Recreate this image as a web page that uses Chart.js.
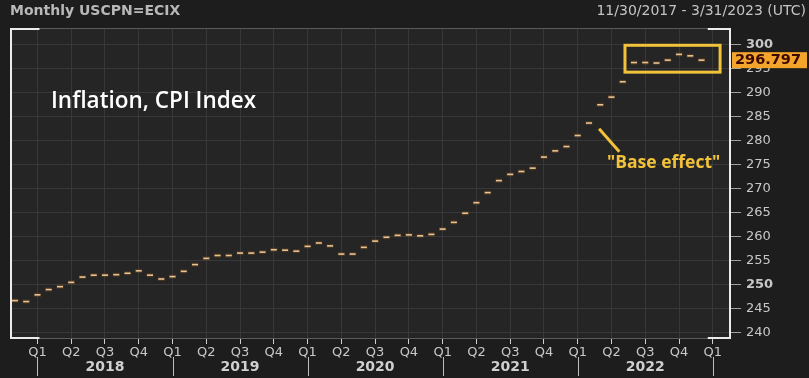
<!DOCTYPE html>
<html><head><meta charset="utf-8">
<script src="https://cdn.jsdelivr.net/npm/chart.js@4/dist/chart.umd.min.js"></script>
<style>html,body{margin:0;padding:0;background:#1d1d1d;overflow:hidden}#wrap{width:809px;height:378px;position:relative}</style>
</head><body><div id="wrap"><canvas id="c" width="809" height="378"></canvas></div>
<script>
// ---- data ----
const months = [
 '2017-11','2017-12',
 '2018-01','2018-02','2018-03','2018-04','2018-05','2018-06','2018-07','2018-08','2018-09','2018-10','2018-11','2018-12',
 '2019-01','2019-02','2019-03','2019-04','2019-05','2019-06','2019-07','2019-08','2019-09','2019-10','2019-11','2019-12',
 '2020-01','2020-02','2020-03','2020-04','2020-05','2020-06','2020-07','2020-08','2020-09','2020-10','2020-11','2020-12',
 '2021-01','2021-02','2021-03','2021-04','2021-05','2021-06','2021-07','2021-08','2021-09','2021-10','2021-11','2021-12',
 '2022-01','2022-02','2022-03','2022-04','2022-05','2022-06','2022-07','2022-08','2022-09','2022-10','2022-11','2022-12'
];
const cpiValues = [
 246.7, 246.5,
 247.9, 249.0, 249.6, 250.5, 251.6, 252.0, 252.0, 252.1, 252.4, 252.9, 252.0, 251.2,
 251.7, 252.8, 254.2, 255.5, 256.1, 256.1, 256.6, 256.6, 256.8, 257.3, 257.2, 257.0,
 258.0, 258.7, 258.1, 256.4, 256.4, 257.8, 259.1, 259.9, 260.3, 260.4, 260.2, 260.5,
 261.6, 263.0, 264.9, 267.1, 269.2, 271.7, 273.0, 273.6, 274.3, 276.6, 277.9, 278.8,
 281.1, 283.7, 287.5, 289.1, 292.3, 296.3, 296.3, 296.2, 296.8, 298.0, 297.7, 296.797
];
const yTicks = [240, 245, 250, 255, 260, 265, 270, 275, 280, 285, 290, 295, 300];
const quarterLabels = ['Q1', 'Q2', 'Q3', 'Q4'];
const yearLabels = ['2018', '2019', '2020', '2021', '2022'];
const baseYear = 2018;
const lastLabel = '296.797';
const titleLeft = 'Monthly USCPN=ECIX';
const titleRight = '11/30/2017 - 3/31/2023 (UTC)';
const noteTitle = 'Inflation, CPI Index';
const noteBase = '"Base effect"';
// highlight box (Jun–Dec 2022) and arrow, in data units
const highlight = {x0: 52.2, x1: 60.65, y0: 299.9, y1: 294.3};
const arrow = {x0: 49.9, y0: 282.5, x1: 51.7, y1: 277.7};

// ---- build ----
const monthIndex = m => (parseInt(m.slice(0,4)) - baseYear) * 12 + parseInt(m.slice(5,7)) - 1;
const points = months.map((m, i) => ({x: monthIndex(m), y: cpiValues[i]}));
const quarterTicks = [];
for (let q = 0; q <= yearLabels.length * 4; q++) quarterTicks.push(q * 3);

const GOLD = '#f2c23a';
const FONT = '"DejaVu Sans", Verdana, sans-serif';

const decor = {
  id: 'decor',
  beforeDraw(chart) {
    const {ctx, chartArea: a} = chart;
    ctx.save();
    ctx.fillStyle = '#1d1d1d';
    ctx.fillRect(0, 0, chart.width, chart.height);
    ctx.fillStyle = '#252525';
    ctx.fillRect(a.left, a.top, a.right - a.left, a.bottom - a.top);
    ctx.restore();
  },
  afterDraw(chart) {
    const {ctx, chartArea: a, scales: {x, y}} = chart;
    ctx.save();
    // frame
    ctx.strokeStyle = '#5a5a5a'; ctx.lineWidth = 1;
    ctx.beginPath();
    ctx.moveTo(a.left, a.top + 0.5); ctx.lineTo(a.right, a.top + 0.5);
    ctx.moveTo(a.left, a.bottom - 0.5); ctx.lineTo(a.right, a.bottom - 0.5);
    ctx.stroke();
    ctx.strokeStyle = '#ececec'; ctx.lineWidth = 2;
    const xs = x.getPixelForValue(0), xe = x.getPixelForValue(yearLabels.length * 12);
    ctx.beginPath();
    ctx.moveTo(a.left + 1, a.top); ctx.lineTo(a.left + 1, a.bottom);
    ctx.moveTo(a.right - 1, a.top); ctx.lineTo(a.right - 1, a.bottom);
    ctx.moveTo(a.left, a.top + 1); ctx.lineTo(xs + 2, a.top + 1);
    ctx.moveTo(xe - 5, a.top + 1); ctx.lineTo(a.right, a.top + 1);
    ctx.moveTo(a.left, a.bottom - 1); ctx.lineTo(xs + 2, a.bottom - 1);
    ctx.moveTo(xe - 5, a.bottom - 1); ctx.lineTo(a.right, a.bottom - 1);
    ctx.stroke();
    // year separators and labels
    ctx.strokeStyle = '#bdbdbd'; ctx.lineWidth = 1;
    ctx.fillStyle = '#d0d0d0';
    ctx.font = 'bold 14px ' + FONT;
    ctx.textAlign = 'center'; ctx.textBaseline = 'middle';
    for (let i = 0; i <= yearLabels.length; i++) {
      const px = Math.round(x.getPixelForValue(i * 12)) + 0.5;
      ctx.beginPath(); ctx.moveTo(px, 357); ctx.lineTo(px, 376); ctx.stroke();
      if (i < yearLabels.length) {
        const mid = x.getPixelForValue(i * 12 + 6);
        ctx.fillText(yearLabels[i], mid, 367);
      }
    }
    // header
    ctx.textBaseline = 'middle';
    ctx.textAlign = 'left';
    ctx.fillStyle = '#b8b8b8';
    ctx.font = 'bold 14px ' + FONT;
    ctx.fillText(titleLeft, 10, 11);
    ctx.textAlign = 'right';
    ctx.font = '14px ' + FONT;
    ctx.fillStyle = '#c4c4c4';
    ctx.fillText(titleRight, 806, 11);
    // inflation title
    ctx.textAlign = 'left';
    ctx.fillStyle = '#ffffff';
    ctx.font = '600 22.5px "Open Sans", sans-serif';
    ctx.fillText(noteTitle, 51, 102);
    // highlight box
    ctx.strokeStyle = GOLD; ctx.lineWidth = 3;
    const bx0 = x.getPixelForValue(highlight.x0), bx1 = x.getPixelForValue(highlight.x1);
    const by0 = y.getPixelForValue(highlight.y0), by1 = y.getPixelForValue(highlight.y1);
    ctx.strokeRect(bx0, by0, bx1 - bx0, by1 - by0);
    // arrow line
    ctx.beginPath();
    ctx.moveTo(x.getPixelForValue(arrow.x0), y.getPixelForValue(arrow.y0));
    ctx.lineTo(x.getPixelForValue(arrow.x1), y.getPixelForValue(arrow.y1));
    ctx.stroke();
    ctx.fillStyle = GOLD;
    ctx.font = 'bold 17.5px "Open Sans", sans-serif';
    ctx.fillText(noteBase, 607, 163);
    // last value tag
    const last = cpiValues[cpiValues.length - 1];
    const ly = y.getPixelForValue(last);
    ctx.fillStyle = '#f3a42a';
    ctx.fillRect(a.right + 1, ly - 8, 75, 16);
    ctx.fillStyle = '#3a0800';
    ctx.font = 'bold 14.5px ' + FONT;
    ctx.textAlign = 'left';
    ctx.fillText(lastLabel, a.right + 4, ly + 0.5);
    ctx.restore();
  }
};

new Chart(document.getElementById('c'), {
  type: 'scatter',
  data: {
    datasets: [
      {data: points, showLine: false, pointStyle: 'line', pointRadius: 3.6, pointBorderWidth: 4,
       borderColor: 'rgba(190,110,30,0.22)', backgroundColor: 'rgba(0,0,0,0)', pointHoverRadius: 3.6},
      {data: points, showLine: false, pointStyle: 'line', pointRadius: 3, pointBorderWidth: 1.6,
       borderColor: '#f6dcb0', backgroundColor: 'rgba(0,0,0,0)', pointHoverRadius: 3}
    ]
  },
  options: {
    responsive: false, animation: false, devicePixelRatio: 1,
    layout: {padding: {left: 10, top: 28, right: 0, bottom: 0}},
    plugins: {legend: {display: false}, tooltip: {enabled: false}},
    events: [],
    scales: {
      x: {
        type: 'linear', min: -2.44, max: 61.62,
        afterBuildTicks: s => { s.ticks = quarterTicks.map(v => ({value: v})); },
        afterFit: s => { s.height = 39; },
        grid: {color: '#383838', tickColor: '#cfcfcf', tickLength: 5, drawTicks: true},
        border: {display: false},
        ticks: {
          autoSkip: false, maxRotation: 0, padding: 1, color: '#c8c8c8',
          font: {family: FONT, size: 13},
          callback: v => quarterLabels[Math.round(v / 3) % 4]
        }
      },
      y: {
        position: 'right', min: 238.7, max: 303.5,
        afterBuildTicks: s => { s.ticks = yTicks.map(v => ({value: v})); },
        afterFit: s => { s.width = 78; },
        grid: {color: '#383838', tickColor: '#a0a0a0', tickLength: 10},
        border: {display: false},
        ticks: {
          padding: 5, color: '#c8c8c8',
          font: ctx => ({family: FONT, size: 13, weight: (ctx.tick && ctx.tick.value % 50 === 0) ? 'bold' : 'normal'}),
          callback: v => String(v)
        }
      }
    }
  },
  plugins: [decor]
});
</script>
</body></html>
